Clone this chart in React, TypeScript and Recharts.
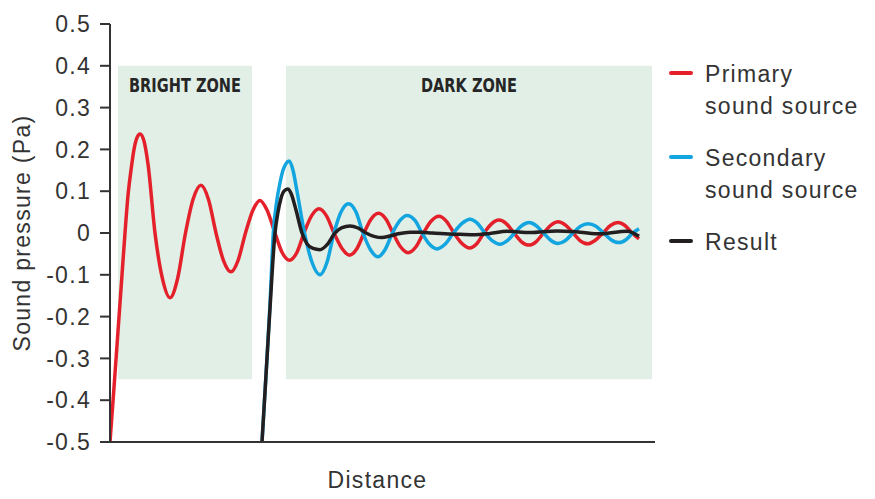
import { LineChart, Line, XAxis, YAxis, ReferenceArea } from 'recharts';

const FONT = '"Liberation Sans", Arial, sans-serif';
const BOLD_FONT = '"DejaVu Sans Condensed", "Liberation Sans", sans-serif';
const SPACING = 1.3;

// [distance, sound pressure (Pa)]
const primary: [number, number][] = [
  [110, -0.5], [114, -0.37], [118, -0.235], [122, -0.1], [125, 0], [128, 0.09], [131, 0.15],
  [134, 0.2], [137, 0.228], [140, 0.237], [144, 0.22], [148, 0.165], [155, 0], [162.5, -0.11],
  [170, -0.155], [177.5, -0.11], [185.5, 0], [193, 0.08], [201, 0.114], [208.5, 0.08], [216, 0],
  [223.5, -0.066], [231, -0.093], [238, -0.066], [245.5, 0], [253, 0.055], [260, 0.078],
  [267, 0.055], [275, 0], [282, -0.046], [289.5, -0.065], [297, -0.046], [304, 0],
  [311.5, 0.041], [319, 0.058], [326.5, 0.041], [334, 0], [342, -0.037], [349.5, -0.053],
  [357, -0.037], [364, 0], [371, 0.033], [378.5, 0.047], [386, 0.033], [393, 0],
  [400.5, -0.033], [408, -0.047], [416, -0.033], [423.5, 0], [431, 0.028], [439, 0.04],
  [446.5, 0.028], [454, 0], [462, -0.025], [469.5, -0.036], [477, -0.025], [484, 0],
  [491.5, 0.022], [499, 0.031], [506.5, 0.022], [514, 0], [521.5, -0.021], [529, -0.029],
  [536, -0.021], [543.5, 0], [551, 0.019], [558, 0.027], [565.5, 0.019], [573, 0],
  [580, -0.018], [587.5, -0.026], [595, -0.018], [603, 0], [610.5, 0.018], [618, 0.025],
  [625, 0.018], [632, 0], [639, -0.014],
];

const secondary: [number, number][] = [
  [262, -0.5], [266, -0.34], [270, -0.17], [273.3, 0], [277, 0.08], [280, 0.12], [283, 0.15],
  [286, 0.166], [289.3, 0.172], [293, 0.15], [297, 0.1], [304.5, 0], [312, -0.07], [320, -0.1],
  [327, -0.07], [334, 0], [341, 0.05], [348.5, 0.07], [356, 0.05], [363, 0], [370.5, -0.04],
  [378, -0.057], [385, -0.04], [392.5, 0], [400, 0.03], [407, 0.042], [415, 0.03], [422, 0],
  [429.5, -0.027], [437, -0.038], [445, -0.027], [453.5, 0], [462, 0.023], [470, 0.033],
  [477.5, 0.023], [485, 0], [492.5, -0.019], [500, -0.027], [507, -0.019], [514.5, 0],
  [522, 0.018], [529, 0.025], [536, 0.018], [543.5, 0], [551, -0.018], [558, -0.025],
  [565.5, -0.018], [573, 0], [580.5, 0.016], [588, 0.022], [596, 0.016], [603.5, 0],
  [611, -0.016], [619, -0.023], [626, -0.016], [633, 0], [639, 0.01],
];

const result: [number, number][] = [
  [262, -0.5], [266, -0.34], [270, -0.18], [275, 0], [278, 0.05], [281, 0.083], [284, 0.1],
  [287.7, 0.105], [291, 0.095], [296, 0.055], [302, 0], [307, -0.026], [313, -0.037],
  [320, -0.04], [327, -0.028], [335, 0], [342, 0.013], [350, 0.017], [358, 0.012], [366, 0],
  [374, -0.008], [382, -0.011], [390, -0.007], [398, -0.002], [410, 0.002], [420, 0.002],
  [432, 0], [445, -0.002], [460, -0.003], [475, -0.004], [490, -0.001], [507, 0.004],
  [530, 0.001], [557, 0.005], [580, 0.002], [600, -0.002], [627, 0.004], [639, -0.008],
];

const yTicks = [-0.5, -0.4, -0.3, -0.2, -0.1, 0, 0.1, 0.2, 0.3, 0.4, 0.5];

const zones = [
  { name: 'BRIGHT ZONE', from: 118, to: 252, textWidth: 112 },
  { name: 'DARK ZONE', from: 286, to: 652, textWidth: 96 },
];
const zoneTop = 0.4;
const zoneBottom = -0.35;

const legendItems = [
  { color: '#e4212b', lines: ['Primary', 'sound source'] },
  { color: '#12a5e0', lines: ['Secondary', 'sound source'] },
  { color: '#231f20', lines: ['Result'] },
];

const toRows = (pts: [number, number][]) => pts.map(([d, p]) => ({ d, p }));

function ZoneLabel(props: any) {
  const { viewBox, value, textWidth } = props;
  if (!viewBox) return null;
  return (
    <text
      x={viewBox.x + viewBox.width / 2}
      y={viewBox.y + 26.5}
      textAnchor="middle"
      fontFamily={BOLD_FONT}
      fontWeight={700}
      fontSize={20}
      fill="#262626"
      textLength={textWidth}
      lengthAdjust="spacingAndGlyphs"
    >
      {value}
    </text>
  );
}

function YLabel(props: any) {
  const { viewBox } = props;
  if (!viewBox) return null;
  const cx = viewBox.x + 12;
  const cy = viewBox.y + viewBox.height / 2;
  return (
    <text
      x={cx}
      y={cy}
      transform={`rotate(-90 ${cx} ${cy})`}
      textAnchor="middle"
      dominantBaseline="central"
      fontFamily={FONT}
      fontSize={23}
      letterSpacing={SPACING}
      fill="#333"
    >
      Sound pressure (Pa)
    </text>
  );
}

function XLabel(props: any) {
  const { viewBox } = props;
  if (!viewBox) return null;
  return (
    <text
      x={viewBox.x + viewBox.width / 2 - 5}
      y={viewBox.y + 46}
      textAnchor="middle"
      fontFamily={FONT}
      fontSize={23}
      letterSpacing={SPACING}
      fill="#333"
    >
      Distance
    </text>
  );
}

function fmtTick(v: number) {
  return v === 0 ? '0' : v.toFixed(1);
}

export default function App() {
  return (
    <div style={{ position: 'absolute', left: 0, top: 0, width: 875, height: 499, background: '#fff' }}>
      <LineChart width={875} height={499} margin={{ top: 24, right: 220, bottom: 0, left: 10 }}>
        <XAxis
          type="number"
          dataKey="d"
          domain={[110, 655]}
          allowDataOverflow
          tick={false}
          tickLine={false}
          height={57}
          axisLine={{ stroke: '#333', strokeWidth: 2 }}
          label={<XLabel />}
        />
        <YAxis
          type="number"
          domain={[-0.5, 0.5]}
          ticks={yTicks}
          interval={0}
          allowDataOverflow
          width={100}
          tickSize={10}
          tickMargin={9}
          tickFormatter={fmtTick}
          axisLine={{ stroke: '#333', strokeWidth: 2 }}
          tickLine={{ stroke: '#333', strokeWidth: 2 }}
          tick={{ fontSize: 23, fill: '#333', fontFamily: FONT, letterSpacing: SPACING }}
          label={<YLabel />}
        />
        {zones.map((z) => (
          <ReferenceArea
            key={z.name}
            x1={z.from}
            x2={z.to}
            y1={zoneBottom}
            y2={zoneTop}
            fill="#e1efe6"
            fillOpacity={1}
            stroke="none"
            label={<ZoneLabel value={z.name} textWidth={z.textWidth} />}
          />
        ))}
        <Line
          data={toRows(primary)}
          dataKey="p"
          type="monotone"
          stroke="#e4212b"
          strokeWidth={3.5}
          dot={false}
          isAnimationActive={false}
        />
        <Line
          data={toRows(secondary)}
          dataKey="p"
          type="monotone"
          stroke="#12a5e0"
          strokeWidth={3.5}
          dot={false}
          isAnimationActive={false}
        />
        <Line
          data={toRows(result)}
          dataKey="p"
          type="monotone"
          stroke="#231f20"
          strokeWidth={3.5}
          dot={false}
          isAnimationActive={false}
        />
      </LineChart>
      <div
        style={{
          position: 'absolute',
          left: 669,
          top: 58,
          fontFamily: FONT,
          fontSize: 23,
          lineHeight: '32px',
          letterSpacing: SPACING,
          color: '#333',
        }}
      >
        {legendItems.map((it) => (
          <div key={it.lines[0]} style={{ display: 'flex', alignItems: 'flex-start', marginBottom: 20 }}>
            <span
              style={{
                display: 'block',
                width: 24,
                height: 4,
                borderRadius: 2,
                background: it.color,
                marginTop: 13,
                marginRight: 12,
              }}
            />
            <div>
              {it.lines.map((l) => (
                <div key={l}>{l}</div>
              ))}
            </div>
          </div>
        ))}
      </div>
    </div>
  );
}
